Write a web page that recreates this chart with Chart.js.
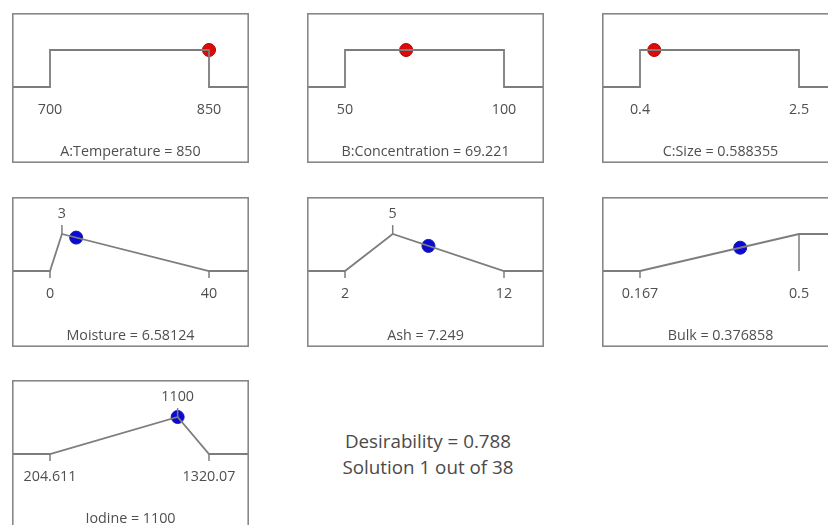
<!DOCTYPE html>
<html>
<head>
<meta charset="utf-8">
<script src="https://cdn.jsdelivr.net/npm/chart.js@4/dist/chart.umd.min.js"></script>
<style>
  html, body { margin: 0; padding: 0; background: #fff; width: 828px; height: 525px; overflow: hidden; }
  #wrap { position: relative; width: 828px; height: 525px; }
  canvas { position: absolute; }
  #desir { position: absolute; left: 290px; top: 428px; width: 276px; text-align: center;
           font-family: "Open Sans", sans-serif; font-size: 18.8px; line-height: 26px; color: #4a4a4a; }
</style>
</head>
<body>
<div id="wrap">
  <div id="desir">Desirability = 0.788<br>Solution 1 out of 38</div>
</div>
<script>
// ---- Data ----
const factorNames   = ["A:Temperature", "B:Concentration", "C:Size", "Moisture", "Ash", "Bulk", "Iodine"];
const lowLimits     = [700, 50, 0.4, 0, 2, 0.167, 204.611];
const highLimits    = [850, 100, 2.5, 40, 12, 0.5, 1320.07];
const lowLabels     = ["700", "50", "0.4", "0", "2", "0.167", "204.611"];
const highLabels    = ["850", "100", "2.5", "40", "12", "0.5", "1320.07"];
const targetValues  = [null, null, null, 3, 5, null, 1100];
const targetLabels  = [null, null, null, "3", "5", null, "1100"];
const solutionValues = [850, 69.221, 0.588355, 6.58124, 7.249, 0.376858, 1100];
const solutionLabels = ["850", "69.221", "0.588355", "6.58124", "7.249", "0.376858", "1100"];
const solutionDesirability = [1, 1, 1, 0.903, 0.679, 0.630, 1];
const isResponse    = [false, false, false, true, true, true, true];
// ramp (desirability function) break points
const rampX = [[700, 700, 850, 850], [50, 50, 100, 100], [0.4, 0.4, 2.5, 2.5],
               [0, 3, 40], [2, 5, 12], [0.167, 0.5], [204.611, 1100, 1320.07]];
const rampD = [[0, 1, 1, 0], [0, 1, 1, 0], [0, 1, 1, 0],
               [0, 1, 0], [0, 1, 0], [0, 1], [0, 1, 0]];

// ---- Layout (positions/styles) ----
const boxes = [
  [12, 13], [307, 13], [602, 13],
  [12, 197], [307, 197], [602, 197],
  [12, 380]
];
const BOX_W = 237, BOX_H = 150;
const LOW_PX = 38, HIGH_PX = 197;       // limit positions inside box
const BASE_PX = 74, UNIT_PX = 37;       // baseline from top, px per desirability unit
const LINE_COLOR = "#7d7d7d";
const TEXT_COLOR = "#4f4f4f";
const FONT = '14.3px "Open Sans", sans-serif';

const wrap = document.getElementById("wrap");

boxes.forEach((pos, i) => {
  const cv = document.createElement("canvas");
  cv.width = BOX_W; cv.height = BOX_H;
  cv.style.left = pos[0] + "px"; cv.style.top = pos[1] + "px";
  cv.style.width = BOX_W + "px"; cv.style.height = BOX_H + "px";
  wrap.appendChild(cv);

  const lo = lowLimits[i], hi = highLimits[i];
  const span = (hi - lo) / ((HIGH_PX - LOW_PX) / BOX_W);
  const xmin = lo - (LOW_PX / BOX_W) * span;
  const xmax = xmin + span;
  const ymax = BASE_PX / UNIT_PX;
  const ymin = -(BOX_H - BASE_PX) / UNIT_PX;

  const rx = rampX[i], rd = rampD[i];
  const rampPts = [{ x: xmin, y: rd[0] }];
  rx.forEach((x, k) => rampPts.push({ x: x, y: rd[k] }));
  rampPts.push({ x: xmax, y: rd[rd.length - 1] });

  const datasets = [{
    type: "line", data: rampPts, borderColor: LINE_COLOR, borderWidth: 1.8,
    pointRadius: 0, tension: 0, fill: false
  }];
  const tickSeg = (pts) => datasets.push({
    type: "line", data: pts, borderColor: LINE_COLOR, borderWidth: 1.5,
    pointRadius: 0, tension: 0, fill: false
  });
  if (isResponse[i]) {
    tickSeg([{ x: lo, y: 0 }, { x: lo, y: -0.19 }]);
    if (i === 5) {
      tickSeg([{ x: hi, y: 1 }, { x: hi, y: 0 }]);
    } else {
      tickSeg([{ x: hi, y: 0 }, { x: hi, y: -0.19 }]);
    }
    if (targetValues[i] !== null) {
      tickSeg([{ x: targetValues[i], y: 1 }, { x: targetValues[i], y: 1.24 }]);
    }
  }
  datasets.push({
    type: "scatter",
    data: [{ x: solutionValues[i], y: solutionDesirability[i] }],
    pointRadius: 6.5, pointHoverRadius: 6.5,
    pointBackgroundColor: isResponse[i] ? "#0a0ad2" : "#dd0a0a",
    pointBorderColor: isResponse[i] ? "#1a1aa0" : "#b00000",
    pointBorderWidth: 1
  });

  const panelPlugin = {
    id: "panel" + i,
    afterDraw(chart) {
      const ctx = chart.ctx, xs = chart.scales.x, ys = chart.scales.y;
      ctx.save();
      ctx.strokeStyle = "#888";
      ctx.lineWidth = 1.6;
      ctx.strokeRect(0.8, 0.8, chart.width - 1.6, chart.height - 1.6);
      ctx.fillStyle = TEXT_COLOR;
      ctx.font = FONT;
      ctx.textAlign = "center";
      ctx.textBaseline = "middle";
      const yLab = ys.getPixelForValue(-23 / UNIT_PX);
      ctx.fillText(lowLabels[i], xs.getPixelForValue(lo), yLab);
      ctx.fillText(highLabels[i], xs.getPixelForValue(hi), yLab);
      if (targetLabels[i]) {
        ctx.fillText(targetLabels[i], xs.getPixelForValue(targetValues[i]), ys.getPixelForValue(1 + 20 / UNIT_PX));
      }
      ctx.fillText(factorNames[i] + " = " + solutionLabels[i], chart.width / 2, ys.getPixelForValue(-65 / UNIT_PX));
      ctx.restore();
    }
  };

  new Chart(cv, {
    type: "line",
    data: { datasets: datasets },
    options: {
      responsive: false, animation: false, devicePixelRatio: 1,
      layout: { padding: 0, autoPadding: false },
      plugins: { legend: { display: false }, tooltip: { enabled: false } },
      scales: {
        x: { type: "linear", min: xmin, max: xmax, display: false },
        y: { type: "linear", min: ymin, max: ymax, display: false }
      }
    },
    plugins: [panelPlugin]
  });
});
</script>
</body>
</html>
